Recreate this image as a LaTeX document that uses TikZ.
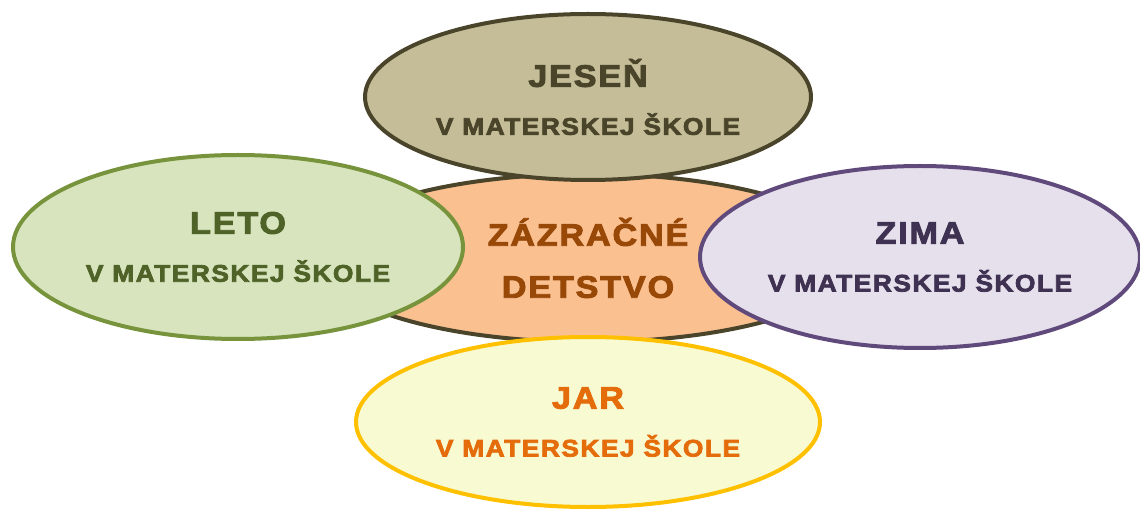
\documentclass[tikz,border=0pt]{standalone}
\usepackage{fontspec}
\usetikzlibrary{shapes.geometric}
\newfontfamily\seasonfont{Liberation Sans Bold}[FakeBold=3,FakeStretch=1.1,LetterSpace=6]
\newcommand{\bigtxt}{\seasonfont\fontsize{31}{32}\selectfont}
\newcommand{\smalltxt}{\seasonfont\fontsize{24}{25}\selectfont}
\definecolor{tanfill}{HTML}{C4BD97}
\definecolor{tanline}{HTML}{4A452A}
\definecolor{letofill}{HTML}{D7E4BD}
\definecolor{letoline}{HTML}{77933C}
\definecolor{letotext}{HTML}{4F6228}
\definecolor{zimafill}{HTML}{E5E0EC}
\definecolor{zimaline}{HTML}{604A7B}
\definecolor{zimatext}{HTML}{3F3151}
\definecolor{jarfill}{HTML}{F8FAD2}
\definecolor{jarline}{HTML}{FFC000}
\definecolor{jartext}{HTML}{E46C0A}
\definecolor{hubfill}{HTML}{FAC090}
\definecolor{hubtext}{HTML}{984807}

\begin{document}
\begin{tikzpicture}[x=1pt,y=-1pt,line width=4pt,
  season/.style={ellipse,draw,inner sep=0pt,align=center,font=\bigtxt}]
\useasboundingbox (0,0) rectangle (1140,510);
% stred
\node[season,fill=hubfill,draw=tanline,text=hubtext,minimum width=540,minimum height=168]
  (hub) at (588,258) {ZÁZRAČNÉ\\[20pt]DETSTVO};
% styri rocne obdobia
\node[season,fill=tanfill,draw=tanline,text=tanline,minimum width=446,minimum height=166]
  (jesen) at (588,97) {JESEŇ\\[16pt]{\smalltxt V MATERSKEJ ŠKOLE}};
\node[season,fill=letofill,draw=letoline,text=letotext,minimum width=450,minimum height=184]
  (leto) at (238,247) {LETO\\[16pt]{\smalltxt V MATERSKEJ ŠKOLE}};
\node[season,fill=zimafill,draw=zimaline,text=zimatext,minimum width=440,minimum height=182]
  (zima) at (920,257) {ZIMA\\[16pt]{\smalltxt V MATERSKEJ ŠKOLE}};
\node[season,fill=jarfill,draw=jarline,text=jartext,minimum width=464,minimum height=170]
  (jar) at (588,422) {JAR\\[16pt]{\smalltxt V MATERSKEJ ŠKOLE}};
\end{tikzpicture}
\end{document}
